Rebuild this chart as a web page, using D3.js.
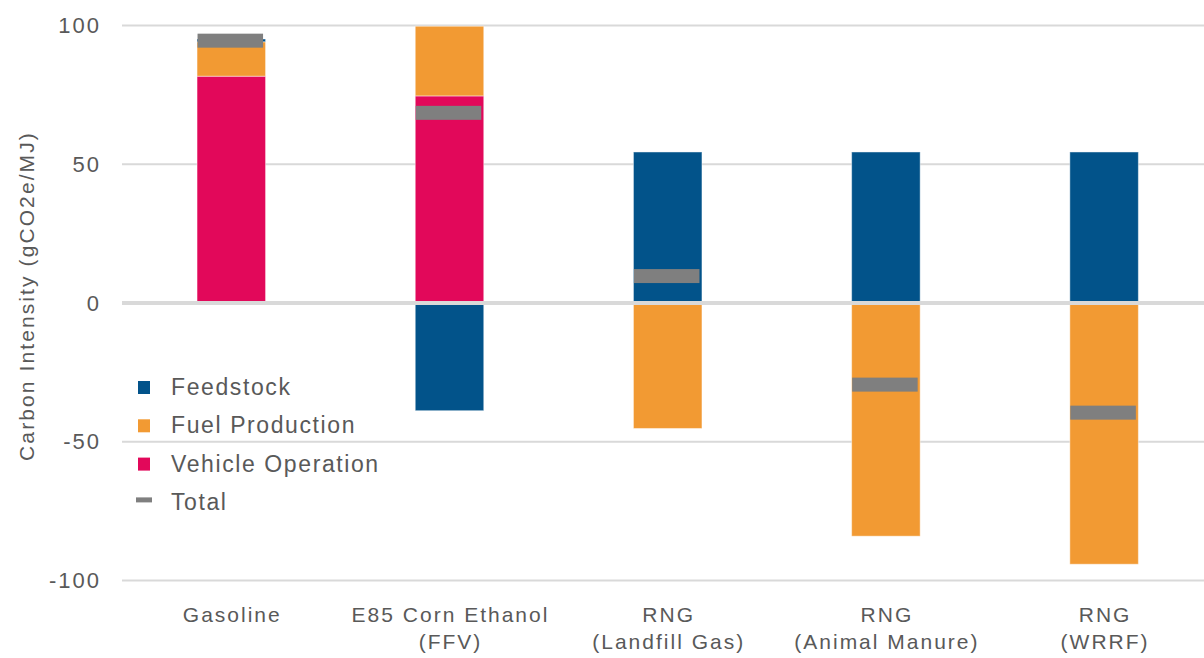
<!DOCTYPE html>
<html>
<head>
<meta charset="utf-8">
<script src="https://cdn.jsdelivr.net/npm/d3@7"></script>
<style>
  html, body { margin: 0; padding: 0; background: #fff; }
  svg { display: block; }
  svg text { font-family: "Liberation Sans", Arial, Helvetica, sans-serif !important; }
</style>
</head>
<body>
<svg id="chart" width="1204" height="658"></svg>
<script>
const categories = [
  ["Gasoline"],
  ["E85 Corn Ethanol", "(FFV)"],
  ["RNG", "(Landfill Gas)"],
  ["RNG", "(Animal Manure)"],
  ["RNG", "(WRRF)"]
];
const seriesNames = ["Feedstock", "Fuel Production", "Vehicle Operation"];
const feedstock        = [1.0, -38.8, 54.4, 54.4, 54.4];
const fuelProduction   = [12.4, 25.1, -45.2, -84.0, -94.1];
const vehicleOperation = [81.7, 74.6, 0, 0, 0];
const total            = [94.5, 68.5, 9.7, -29.4, -39.5];
const yTicks = [-100, -50, 0, 50, 100];

const colors = {
  "Feedstock": "#02538A",
  "Fuel Production": "#F29A33",
  "Vehicle Operation": "#E2085A",
  "Total": "#7F7F7F"
};
const textColor = "#595959";
const gridColor = "#D9D9D9";
const FONT = "'Liberation Sans', Arial, Helvetica, sans-serif";

const svg = d3.select("#chart");
const W = 1204;

const rows = categories.map((c, i) => ({
  key: i,
  "Feedstock": feedstock[i],
  "Fuel Production": fuelProduction[i],
  "Vehicle Operation": vehicleOperation[i],
  total: total[i]
}));

const x = d3.scaleBand()
  .domain(d3.range(categories.length))
  .range([122.2, 1213.2])
  .paddingInner(0.686)
  .paddingOuter(0.343);

const y = d3.scaleLinear().domain([-100, 100]).range([580.6, 25.4]);

// gridlines (non-zero), behind bars
svg.append("g").selectAll("line")
  .data(yTicks.filter(d => d !== 0))
  .join("line")
  .attr("x1", 122).attr("x2", W)
  .attr("y1", d => y(d)).attr("y2", d => y(d))
  .attr("stroke", gridColor).attr("stroke-width", 2);

// y tick labels
const yAxis = d3.axisLeft(y).tickValues(yTicks).tickSize(0).tickPadding(0)
  .tickFormat(d => String(d));
const yg = svg.append("g").attr("transform", "translate(101,0)").call(yAxis);
yg.attr("font-family", FONT).attr("font-size", null);
yg.select(".domain").remove();
yg.selectAll("text")
  .attr("fill", textColor)
  .style("font-size", "22px")
  .style("letter-spacing", "2px");

// stacked bars: positive order VO, FP, FS
const stackKeys = ["Vehicle Operation", "Fuel Production", "Feedstock"];
const stacked = d3.stack().keys(stackKeys).offset(d3.stackOffsetDiverging)(rows);

svg.append("g").selectAll("g")
  .data(stacked)
  .join("g")
  .attr("fill", d => colors[d.key])
  .selectAll("rect")
  .data(d => d.filter(p => p[1] - p[0] !== 0))
  .join("rect")
  .attr("x", d => x(d.data.key))
  .attr("width", x.bandwidth())
  .attr("y", d => y(Math.max(d[0], d[1])))
  .attr("height", d => Math.abs(y(d[0]) - y(d[1])))
  .attr("stroke", "#ffffff")
  .attr("stroke-opacity", 0.45)
  .attr("stroke-width", 1);

// zero line on top
svg.append("line")
  .attr("x1", 122).attr("x2", W)
  .attr("y1", y(0)).attr("y2", y(0))
  .attr("stroke", gridColor).attr("stroke-width", 4);

// total markers
svg.append("g").selectAll("rect")
  .data(rows)
  .join("rect")
  .attr("x", d => x(d.key) + 0.5)
  .attr("width", x.bandwidth() - 3)
  .attr("y", d => y(d.total) - 7)
  .attr("height", 14)
  .attr("fill", colors.Total);

// category labels
const xg = svg.append("g");
categories.forEach((lines, i) => {
  const cx = x(i) + x.bandwidth() / 2 + 1;
  const t = xg.append("text")
    .attr("x", cx)
    .attr("y", 622)
    .attr("text-anchor", "middle")
    .attr("fill", textColor)
    .style("font-size", "21px")
    .style("letter-spacing", "2px");
  lines.forEach((ln, j) => {
    t.append("tspan")
      .attr("x", cx)
      .attr("dy", j === 0 ? 0 : 27)
      .text(ln);
  });
});

// y axis title
svg.append("text")
  .attr("transform", "translate(34,296) rotate(-90)")
  .attr("text-anchor", "middle")
  .attr("fill", textColor)
  .style("font-size", "21px")
  .style("letter-spacing", "2.1px")
  .text("Carbon Intensity (gCO2e/MJ)");

// legend
const legendItems = ["Feedstock", "Fuel Production", "Vehicle Operation", "Total"];
const lg = svg.append("g");
legendItems.forEach((name, i) => {
  const base = 395 + i * 38.3;
  if (name === "Total") {
    lg.append("rect")
      .attr("x", 136).attr("y", base - 12.5)
      .attr("width", 16).attr("height", 5)
      .attr("fill", colors[name]);
  } else {
    lg.append("rect")
      .attr("x", 138).attr("y", base - 14)
      .attr("width", 12).attr("height", 13)
      .attr("fill", colors[name]);
  }
  lg.append("text")
    .attr("x", 171).attr("y", base)
    .attr("fill", textColor)
    .style("font-size", "23px")
    .style("letter-spacing", "1.6px")
    .text(name);
});
</script>
</body>
</html>
